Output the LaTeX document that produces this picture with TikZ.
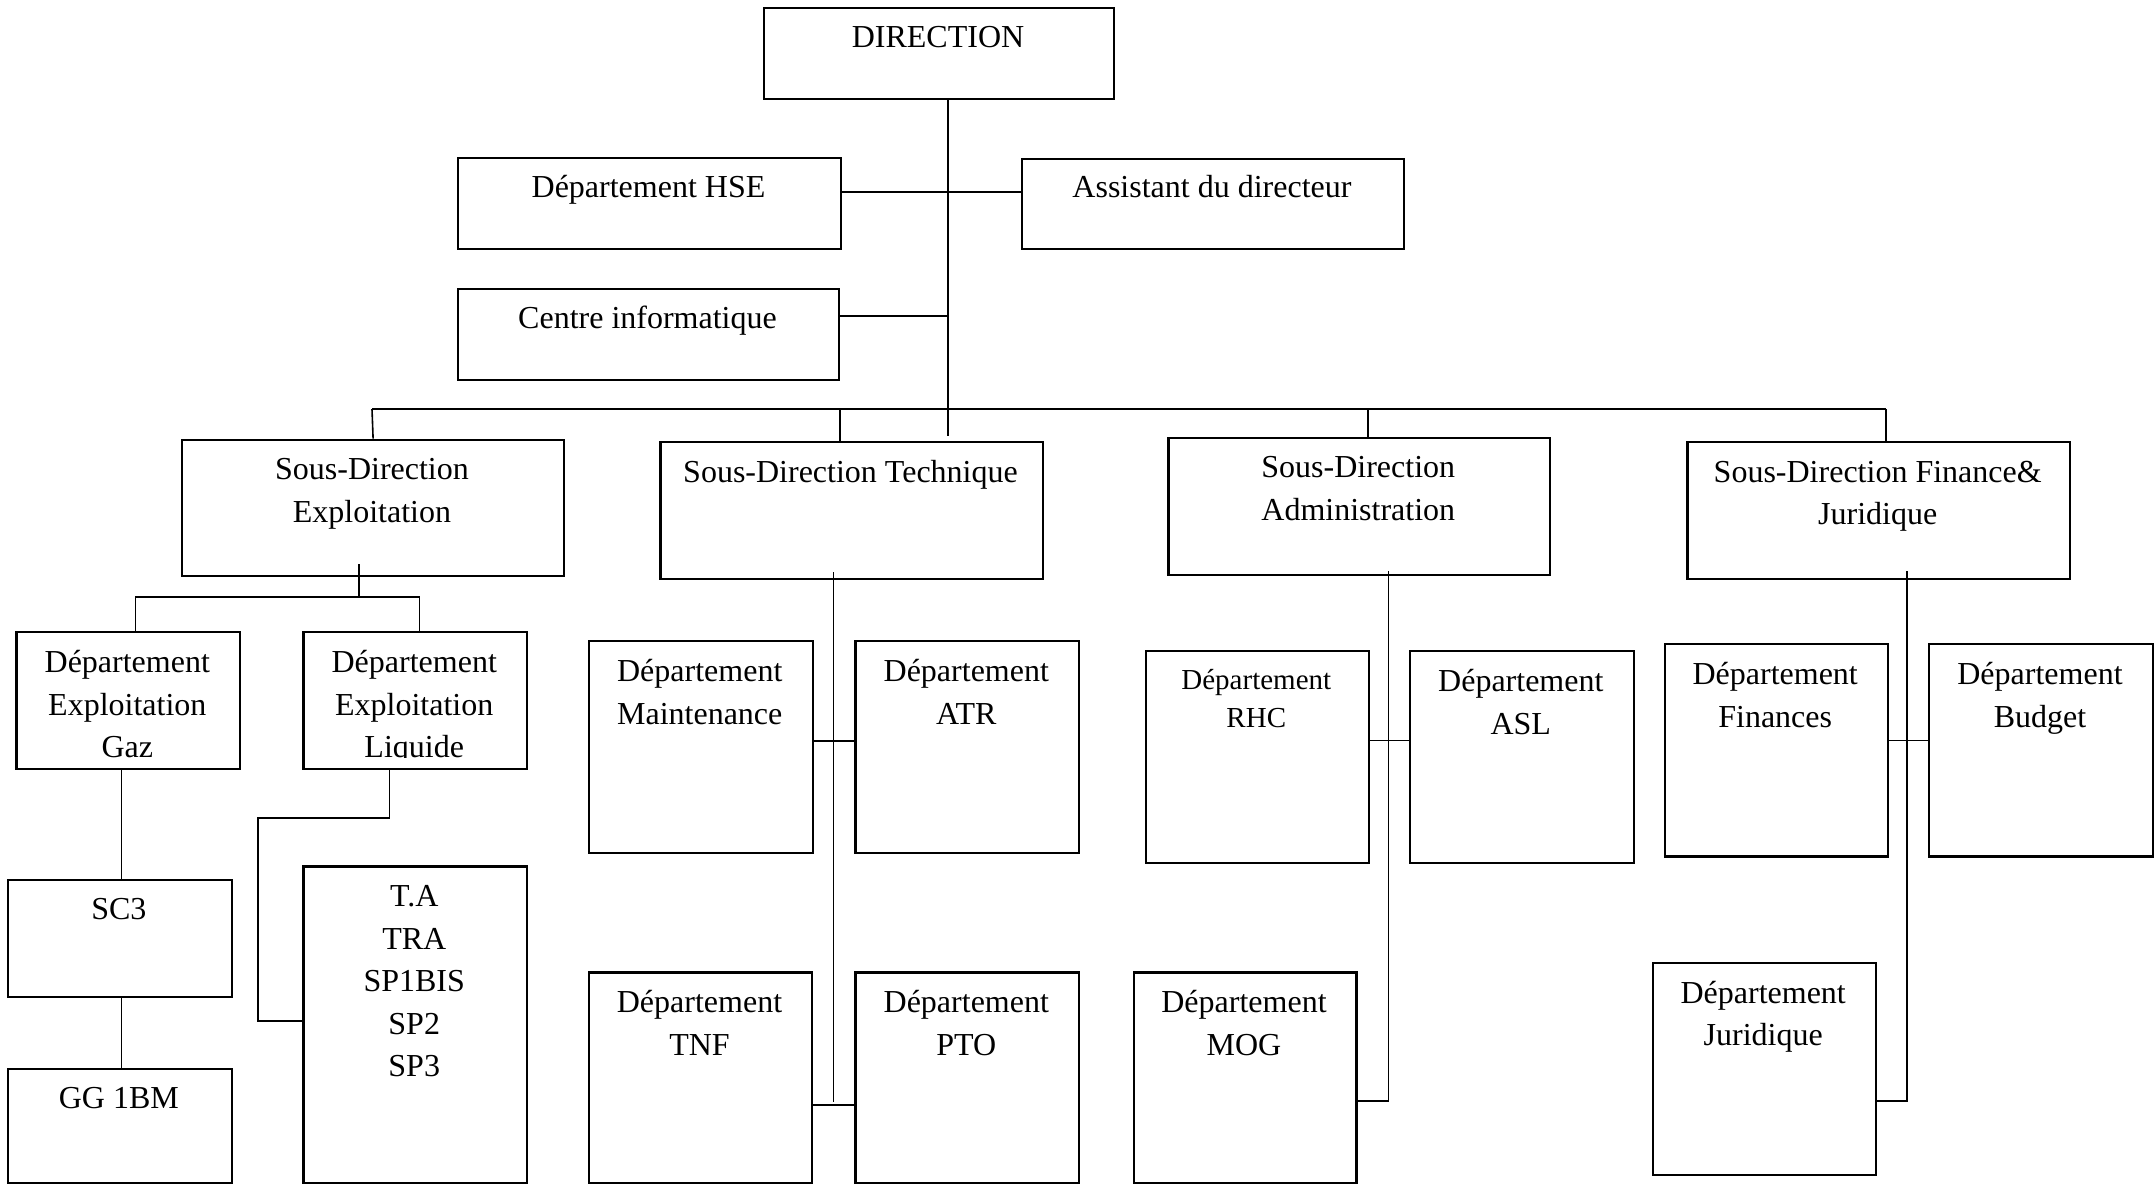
\documentclass[tikz,border=0pt]{standalone}
\usepackage{fontspec}
\setmainfont{Liberation Serif}
\newcommand\fbig{\fontsize{32}{42.5}\selectfont}
\newcommand\fsml{\fontsize{29}{38}\selectfont}
\newcommand\bx[5]{\node[box, minimum width=#4pt, minimum height=#5pt] (#1) at (#2,#3) {};}
\begin{document}
\begin{tikzpicture}[x=1pt,y=-1pt,
  box/.style={draw=black, line width=2.2pt, rectangle, inner sep=0pt, anchor=north west},
  txt/.style={inner sep=0pt, anchor=north, align=center, font=\fbig, yshift=31.25pt},
  txts/.style={inner sep=0pt, anchor=north, align=center, font=\fsml, yshift=28.1pt},
  conn/.style={draw=black, line width=1.6pt}]
\fill[white] (0,0) rectangle (2156,1184);
\useasboundingbox (0,0) rectangle (2156,1184);

% boxes
\bx{dir}{763}{7}{350}{91}
\bx{hse}{457}{157}{383}{91}
\bx{asst}{1021}{158}{382}{90}
\bx{ci}{457}{288}{381}{91}
\bx{sde}{181}{438.6}{382}{136}
\bx{sdt}{659.4}{441}{382.3}{136.5}
\bx{sda}{1167.4}{436.7}{381.8}{137.3}
\bx{sdfj}{1686.4}{441}{382.6}{136.5}
\bx{deg}{15.4}{631}{223.8}{136.5}
\bx{del}{302.4}{631}{223.7}{136.5}
\bx{sc3}{7}{878.7}{223.8}{117.3}
\bx{gg}{7}{1067.6}{223.8}{114.4}
\bx{ta}{302.4}{865.4}{223.7}{316.6}
\bx{mnt}{587.9}{640}{223.7}{211.7}
\bx{atr}{854.4}{640}{223.8}{211.7}
\bx{tnf}{587.9}{971.3}{223.1}{210.7}
\bx{pto}{854.4}{971.3}{223.8}{210.7}
\bx{rhc}{1144.5}{649.5}{223.6}{212.7}
\bx{asl}{1409}{649.5}{223.6}{212.7}
\bx{mog}{1132.5}{971.3}{222.9}{210.7}
\bx{fin}{1663.7}{643}{222.9}{212.3}
\bx{bud}{1928.2}{643}{223.6}{212.3}
\bx{jur}{1651.7}{961.6}{222.9}{212.4}

% texts
\node[txt] (dir-t) at (938,49) {\strut DIRECTION};
\node[txt] (hse-t) at (648.5,199) {\strut Département HSE};
\node[txt] (asst-t) at (1212,199) {\strut Assistant du directeur};
\node[txt] (ci-t) at (647.5,330) {\strut Centre informatique};
\node[txt] (sde-t) at (372,481) {\strut Sous-Direction\\Exploitation};
\node[txt] (sdt-t) at (850.5,483.5) {\strut Sous-Direction Technique};
\node[txt] (sda-t) at (1358.3,479) {\strut Sous-Direction\\Administration};
\node[txt] (sdfj-t) at (1877.7,483.5) {\strut Sous-Direction Finance\&\\Juridique};
\node[txt] (deg-t) at (127.3,674) {\strut Département\\Exploitation\\Gaz};
\begin{scope}
\clip (302.4,631) rectangle (526.1,757);
\node[txt] (del-t) at (414.25,674) {\strut Département\\Exploitation\\Liquide};
\end{scope}
\node[txt] (sc3-t) at (118.9,921) {\strut SC3};
\node[txt] (gg-t) at (118.9,1110) {\strut GG 1BM};
\node[txt] (ta-t) at (414.25,908) {\strut T.A\\TRA\\SP1BIS\\SP2\\SP3};
\node[txt] (mnt-t) at (699.75,683) {\strut Département\\Maintenance};
\node[txt] (atr-t) at (966.3,683) {\strut Département\\ATR};
\node[txt] (tnf-t) at (699.5,1014) {\strut Département\\TNF};
\node[txt] (pto-t) at (966.3,1014) {\strut Département\\PTO};
\node[txts] (rhc-t) at (1256.3,690.6) {\strut Département\\RHC};
\node[txt] (asl-t) at (1520.8,693) {\strut Département\\ASL};
\node[txt] (mog-t) at (1244,1014) {\strut Département\\MOG};
\node[txt] (fin-t) at (1775.2,686) {\strut Département\\Finances};
\node[txt] (bud-t) at (2040,686) {\strut Département\\Budget};
\node[txt] (jur-t) at (1763.2,1004.5) {\strut Département\\Juridique};

% connectors: direction level
\coordinate (tk) at (948,436);
\coordinate (jh) at (948,192);
\coordinate (jc) at (948,316);
\draw[conn] (dir.south -| tk) -- (tk);
\draw[conn] (hse.east |- jh) -- (asst.west |- jh);
\draw[conn] (ci.east |- jc) -- (jc);
% bus to sous-directions
\coordinate (busL) at (372,409);
\coordinate (busR) at (1886,409);
\coordinate (d2) at (840,409);
\coordinate (d3) at (1368,409);
\draw[conn] (busL) -- (busR);
\draw[conn] (busL) -- (sde.north);
\draw[conn] (d2) -- (d2 |- sdt.north);
\draw[conn] (d3) -- (d3 |- sda.north);
\draw[conn] (busR) -- (busR |- sdfj.north);
% Sous-Direction Exploitation
\coordinate (e0) at (359,564);
\coordinate (e1) at (359,597);
\coordinate (eL) at (135.4,597);
\coordinate (eR) at (419.5,597);
\draw[conn] (e0) -- (e1);
\draw[conn] (eL |- deg.north) -- (eL) -- (eR) -- (eR |- del.north);
\coordinate (g) at (121.4,900);
\draw[conn] (deg.south -| g) -- (sc3.north -| g);
\draw[conn] (sc3.south -| g) -- (gg.north -| g);
\coordinate (l1) at (389.3,818);
\coordinate (l2) at (258.2,818);
\coordinate (l3) at (258.2,1021);
\draw[conn] (del.south -| l1) -- (l1) -- (l2) -- (l3) -- (l3 -| ta.west);
% Sous-Direction Technique
\coordinate (t0) at (833.4,572);
\coordinate (t1) at (833.4,1102);
\coordinate (ytm) at (833.4,741);
\coordinate (ytb) at (833.4,1104.8);
\draw[conn] (t0) -- (t1);
\draw[conn] (mnt.east |- ytm) -- (atr.west |- ytm);
\draw[conn] (tnf.east |- ytb) -- (pto.west |- ytb);
% Sous-Direction Administration
\coordinate (a0) at (1388.6,571);
\coordinate (a1) at (1388.6,1100.7);
\coordinate (yam) at (1388.6,740.5);
\draw[conn] (a0) -- (a1) -- (a1 -| mog.east);
\draw[conn] (rhc.east |- yam) -- (asl.west |- yam);
% Sous-Direction Finance & Juridique
\coordinate (f0) at (1907,571.4);
\coordinate (f1) at (1907,1100.7);
\coordinate (yfm) at (1907,740.5);
\draw[conn] (f0) -- (f1) -- (f1 -| jur.east);
\draw[conn] (fin.east |- yfm) -- (bud.west |- yfm);
\end{tikzpicture}
\end{document}
